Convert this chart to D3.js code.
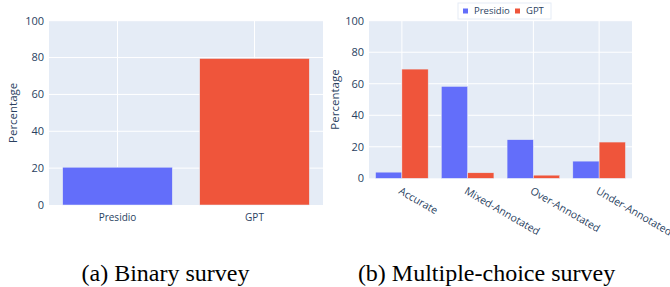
<!doctype html>
<html lang="en">
    <head>
        <meta charset="UTF-8" />
        <title>Survey results</title>
        <script src="https://d3js.org/d3.v7.min.js"></script>
        <style>
            body {
                margin: 0;
                background: #fff;
            }
            svg text {
                font-family: "Open Sans", sans-serif;
                fill: #2a3f5f;
            }
            svg text.caption {
                font-family: "Liberation Serif", "Times New Roman", serif;
                fill: #000;
            }
        </style>
    </head>
    <body>
        <svg id="chart" width="670" height="287"></svg>
        <script>
            // (a) binary survey
            const binaryCategories = ["Presidio", "GPT"];
            const binaryValues = [20.5, 79.5];

            // (b) multiple-choice survey
            const choiceCategories = [
                "Accurate",
                "Mixed-Annotated",
                "Over-Annotated",
                "Under-Annotated",
            ];
            const seriesNames = ["Presidio", "GPT"];
            const presidioValues = [3.9, 58.3, 24.5, 10.9];
            const gptValues = [69.3, 3.5, 2.0, 23.0];

            const yTicks = [0, 20, 40, 60, 80, 100];
            const captions = ["(a) Binary survey", "(b) Multiple-choice survey"];

            const colors = { Presidio: "#636efa", GPT: "#EF553B" };
            const plotBg = "#E5ECF6";

            const svg = d3.select("#chart");

            function panel(box) {
                const g = svg.append("g");
                g.append("rect")
                    .attr("x", box.left)
                    .attr("y", box.top)
                    .attr("width", box.right - box.left)
                    .attr("height", box.bottom - box.top)
                    .attr("fill", plotBg);

                const y = d3
                    .scaleLinear()
                    .domain([0, 100])
                    .range([box.bottom, box.top]);

                const x = d3
                    .scaleBand()
                    .domain(box.categories)
                    .range([box.left, box.right]);

                // grid
                g.append("g")
                    .selectAll("line")
                    .data(yTicks.slice(1))
                    .join("line")
                    .attr("x1", box.left)
                    .attr("x2", box.right)
                    .attr("y1", (d) => y(d))
                    .attr("y2", (d) => y(d))
                    .attr("stroke", "#fff")
                    .attr("stroke-width", 1);
                g.append("g")
                    .selectAll("line")
                    .data(box.categories)
                    .join("line")
                    .attr("x1", (d) => x(d) + x.bandwidth() / 2)
                    .attr("x2", (d) => x(d) + x.bandwidth() / 2)
                    .attr("y1", box.top)
                    .attr("y2", box.bottom)
                    .attr("stroke", "#fff")
                    .attr("stroke-width", 1);

                // y tick labels
                g.append("g")
                    .selectAll("text")
                    .data(yTicks)
                    .join("text")
                    .attr("x", box.left - 5)
                    .attr("y", (d) => y(d))
                    .attr("dy", "0.35em")
                    .attr("text-anchor", "end")
                    .style("font-size", "11px")
                    .text((d) => d);

                // y title
                g.append("text")
                    .attr(
                        "transform",
                        `translate(${box.titleX},${(box.top + box.bottom) / 2}) rotate(-90)`,
                    )
                    .attr("text-anchor", "middle")
                    .attr("dy", "0.35em")
                    .style("font-size", "11.5px")
                    .text("Percentage");

                return { g, x, y };
            }

            // ---- panel (a)
            const a = panel({
                left: 49,
                right: 323,
                top: 20.7,
                bottom: 205,
                titleX: 13,
                categories: binaryCategories,
            });
            const barW = a.x.bandwidth() * 0.8;
            a.g.append("g")
                .selectAll("rect")
                .data(binaryCategories.map((c, i) => ({ c, v: binaryValues[i] })))
                .join("rect")
                .attr("x", (d) => a.x(d.c) + (a.x.bandwidth() - barW) / 2)
                .attr("y", (d) => a.y(d.v))
                .attr("width", barW)
                .attr("height", (d) => a.y(0) - a.y(d.v))
                .attr("fill", (d) => colors[d.c])
                .attr("stroke", plotBg)
                .attr("stroke-width", 0.5);
            a.g.append("g")
                .selectAll("text")
                .data(binaryCategories)
                .join("text")
                .attr("x", (d) => a.x(d) + a.x.bandwidth() / 2)
                .attr("y", 221)
                .attr("text-anchor", "middle")
                .style("font-size", "10px")
                .text((d) => d);

            // ---- panel (b)
            const b = panel({
                left: 369,
                right: 632,
                top: 20.7,
                bottom: 178.3,
                titleX: 335,
                categories: choiceCategories,
            });
            const inner = d3
                .scaleBand()
                .domain(seriesNames)
                .range([0, b.x.bandwidth() * 0.8]);
            const off = b.x.bandwidth() * 0.1;
            const grouped = [];
            choiceCategories.forEach((c, i) => {
                grouped.push({ c, s: "Presidio", v: presidioValues[i] });
                grouped.push({ c, s: "GPT", v: gptValues[i] });
            });
            b.g.append("g")
                .selectAll("rect")
                .data(grouped)
                .join("rect")
                .attr("x", (d) => b.x(d.c) + off + inner(d.s))
                .attr("y", (d) => b.y(d.v))
                .attr("width", inner.bandwidth())
                .attr("height", (d) => b.y(0) - b.y(d.v))
                .attr("fill", (d) => colors[d.s])
                .attr("stroke", plotBg)
                .attr("stroke-width", 0.5);
            b.g.append("g")
                .selectAll("text")
                .data(choiceCategories)
                .join("text")
                .attr(
                    "transform",
                    (d) =>
                        `translate(${b.x(d) + b.x.bandwidth() / 2},${b.y(0) + 8}) rotate(30)`,
                )
                .attr("dy", "0.75em")
                .attr("text-anchor", "start")
                .style("font-size", "10.5px")
                .text((d) => d);

            // legend
            const lg = svg.append("g").attr("transform", "translate(458,3)");
            lg.append("rect")
                .attr("width", 93)
                .attr("height", 16)
                .attr("fill", "#fff")
                .attr("stroke", "#E5ECF6")
                .attr("stroke-width", 1);
            const items = lg
                .selectAll("g")
                .data(seriesNames)
                .join("g")
                .attr("transform", (d, i) => `translate(${[5, 57][i]},0)`);
            items
                .append("rect")
                .attr("x", 0)
                .attr("y", 5.5)
                .attr("width", 5)
                .attr("height", 5)
                .attr("fill", (d) => colors[d]);
            items
                .append("text")
                .attr("x", 11)
                .attr("y", 8)
                .attr("dy", "0.35em")
                .style("font-size", "9.5px")
                .text((d) => d);

            // captions
            svg.append("g")
                .selectAll("text")
                .data(captions)
                .join("text")
                .attr("class", "caption")
                .attr("x", (d, i) => [165.5, 486.5][i])
                .attr("y", 281)
                .attr("text-anchor", "middle")
                .style("font-size", "24px")
                .text((d) => d);
        </script>
    </body>
</html>
